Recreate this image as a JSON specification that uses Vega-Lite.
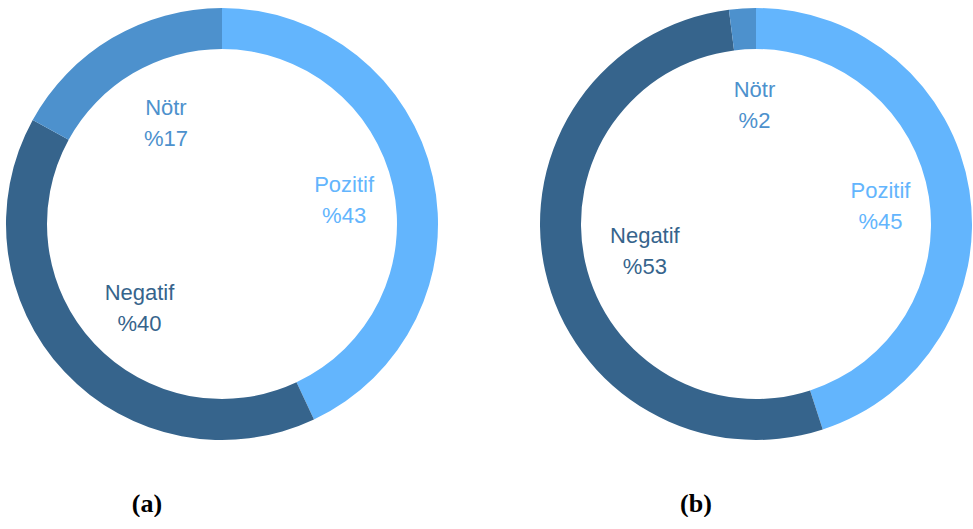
{
  "$schema": "https://vega.github.io/schema/vega-lite/v6.json",
  "padding": 0,
  "background": "white",
  "spacing": 96,
  "data": {
    "values": [
      {"chart": "a", "category": "Pozitif", "value": 43, "ord": 0, "label": "Pozitif\n%43"},
      {"chart": "a", "category": "Negatif", "value": 40, "ord": 1, "label": "Negatif\n%40"},
      {"chart": "a", "category": "Nötr", "value": 17, "ord": 2, "label": "Nötr\n%17"},
      {"chart": "b", "category": "Pozitif", "value": 45, "ord": 0, "label": "Pozitif\n%45"},
      {"chart": "b", "category": "Negatif", "value": 53, "ord": 1, "label": "Negatif\n%53"},
      {"chart": "b", "category": "Nötr", "value": 2, "ord": 2, "label": "Nötr\n%2"}
    ]
  },
  "hconcat": [
    {
      "width": 444,
      "height": 448,
      "title": {"text": "(a)", "orient": "bottom", "anchor": "middle", "dx": -75, "offset": 43},
      "transform": [{"filter": "datum.chart === 'a'"}],
      "encoding": {
        "theta": {"field": "value", "type": "quantitative", "stack": true},
        "order": {"field": "ord", "type": "quantitative"},
        "color": {
          "field": "category",
          "type": "nominal",
          "legend": null,
          "scale": {"domain": ["Pozitif", "Negatif", "Nötr"], "range": ["#63B5FD", "#36648C", "#4D91CD"]}
        }
      },
      "layer": [
        {"mark": {"type": "arc", "outerRadius": 216, "innerRadius": 175}},
        {"mark": {"type": "text", "radius": 120, "dx": 5, "dy": -13, "font": "Liberation Sans", "fontSize": 22, "lineBreak": "\n", "lineHeight": 31, "align": "center", "baseline": "middle"},
         "encoding": {"text": {"field": "label", "type": "nominal"}}}
      ]
    },
    {
      "width": 432,
      "height": 448,
      "title": {"text": "(b)", "orient": "bottom", "anchor": "middle", "dx": -60, "offset": 43},
      "transform": [{"filter": "datum.chart === 'b'"}],
      "encoding": {
        "theta": {"field": "value", "type": "quantitative", "stack": true},
        "order": {"field": "ord", "type": "quantitative"},
        "color": {
          "field": "category",
          "type": "nominal",
          "legend": null,
          "scale": {"domain": ["Pozitif", "Negatif", "Nötr"], "range": ["#63B5FD", "#36648C", "#4D91CD"]}
        }
      },
      "layer": [
        {"mark": {"type": "arc", "outerRadius": 216, "innerRadius": 175}},
        {"mark": {"type": "text", "radius": 120, "dx": 6, "dy": -14, "font": "Liberation Sans", "fontSize": 22, "lineBreak": "\n", "lineHeight": 31, "align": "center", "baseline": "middle"},
         "encoding": {"text": {"field": "label", "type": "nominal"}}}
      ]
    }
  ],
  "config": {
    "view": {"stroke": null},
    "title": {"font": "Liberation Serif", "fontSize": 26, "fontWeight": "bold", "color": "#000000"}
  }
}
